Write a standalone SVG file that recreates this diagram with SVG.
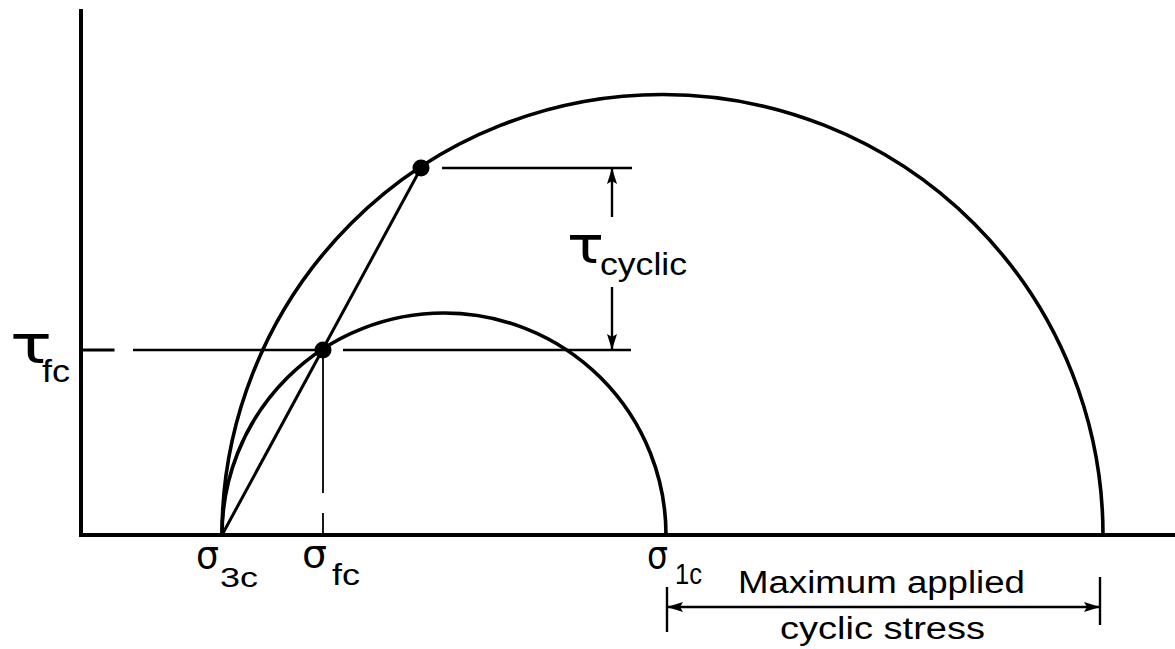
<svg xmlns="http://www.w3.org/2000/svg" width="1175" height="649" viewBox="0 0 1175 649">
<defs>
<style>
.ax{stroke:#000;stroke-width:4;fill:none;stroke-linecap:square}
.circ{stroke:#000;stroke-width:3.6;fill:none}
.ln{stroke:#000;stroke-width:3;fill:none}
.thin{stroke:#000;stroke-width:2.4;fill:none}
.hair{stroke:#000;stroke-width:1.8;fill:none}
.t{font-family:"Liberation Sans",Arial,sans-serif;fill:#000}
.g{font-family:"DejaVu Sans","Liberation Sans",sans-serif;fill:#000}
</style>
<marker id="ah" viewBox="0 0 16 10" refX="16" refY="5" markerWidth="16" markerHeight="10" markerUnits="userSpaceOnUse" orient="auto">
<path d="M0,0 L16,5 L0,10 L3,5 Z" fill="#000"/>
</marker>
</defs>
<rect width="1175" height="649" fill="#fff"/>
<g id="axes">
<line class="ax" x1="81" y1="11" x2="81" y2="535"/>
<line class="ax" x1="81" y1="535" x2="1175" y2="535"/>
</g>
<g id="large-circle">
<path class="circ" d="M222,535 A440.5,440.5 0 0 1 1103,535"/>
</g>
<g id="small-circle">
<path class="circ" d="M222,535 A222,222 0 0 1 666,535"/>
</g>
<g id="chord">
<line class="ln" x1="222" y1="535" x2="421" y2="168"/>
</g>
<g id="point-cyclic">
<circle cx="421" cy="168" r="8.5" fill="#000"/>
</g>
<g id="point-fc">
<circle cx="323" cy="350" r="8.5" fill="#000"/>
</g>
<g id="connectors">
<line class="ax" x1="81" y1="350" x2="113" y2="350" style="stroke-width:3"/>
<line class="thin" x1="133" y1="350" x2="323" y2="350"/>
<line class="thin" x1="343" y1="350" x2="631" y2="350"/>
<line class="thin" x1="442" y1="168" x2="632" y2="168"/>
<line class="hair" x1="323" y1="350" x2="323" y2="493"/>
<line class="hair" x1="323" y1="513" x2="323" y2="535"/>
<line class="thin" x1="612" y1="217" x2="612" y2="168" marker-end="url(#ah)"/>
<line class="thin" x1="612" y1="287" x2="612" y2="350" marker-end="url(#ah)"/>
<line class="thin" x1="667" y1="587" x2="667" y2="632"/>
<line class="thin" x1="1100" y1="577" x2="1100" y2="625"/>
<line class="thin" x1="884" y1="607" x2="667" y2="607" marker-end="url(#ah)"/>
<line class="thin" x1="884" y1="607" x2="1100" y2="607" marker-end="url(#ah)"/>
</g>
<g id="label-tau-fc">
<text class="g" x="10" y="363" font-size="54" textLength="42" lengthAdjust="spacingAndGlyphs">τ</text>
<text class="t" x="42" y="382" font-size="31" textLength="28" lengthAdjust="spacingAndGlyphs">fc</text>
</g>
<g id="label-tau-cyclic">
<text class="g" x="567" y="263" font-size="52" textLength="37" lengthAdjust="spacingAndGlyphs">τ</text>
<text class="t" x="600" y="275" font-size="32" textLength="87" lengthAdjust="spacingAndGlyphs">cyclic</text>
</g>
<g id="label-sigma-3c">
<text class="g" x="196" y="568" font-size="38" textLength="23" lengthAdjust="spacingAndGlyphs">σ</text>
<text class="t" x="220" y="587" font-size="28" textLength="38" lengthAdjust="spacingAndGlyphs">3c</text>
</g>
<g id="label-sigma-fc">
<text class="g" x="302" y="567" font-size="38" textLength="25" lengthAdjust="spacingAndGlyphs">σ</text>
<text class="t" x="332" y="585" font-size="30" textLength="28" lengthAdjust="spacingAndGlyphs">fc</text>
</g>
<g id="label-sigma-1c">
<text class="g" x="647" y="568" font-size="38" textLength="21" lengthAdjust="spacingAndGlyphs">σ</text>
<text class="t" x="675" y="584" font-size="29" textLength="27" lengthAdjust="spacingAndGlyphs">1c</text>
</g>
<g id="label-max">
<text class="t" x="738" y="593" font-size="31" textLength="287" lengthAdjust="spacingAndGlyphs">Maximum applied</text>
<text class="t" x="780" y="639" font-size="31" textLength="205" lengthAdjust="spacingAndGlyphs">cyclic stress</text>
</g>
</svg>
